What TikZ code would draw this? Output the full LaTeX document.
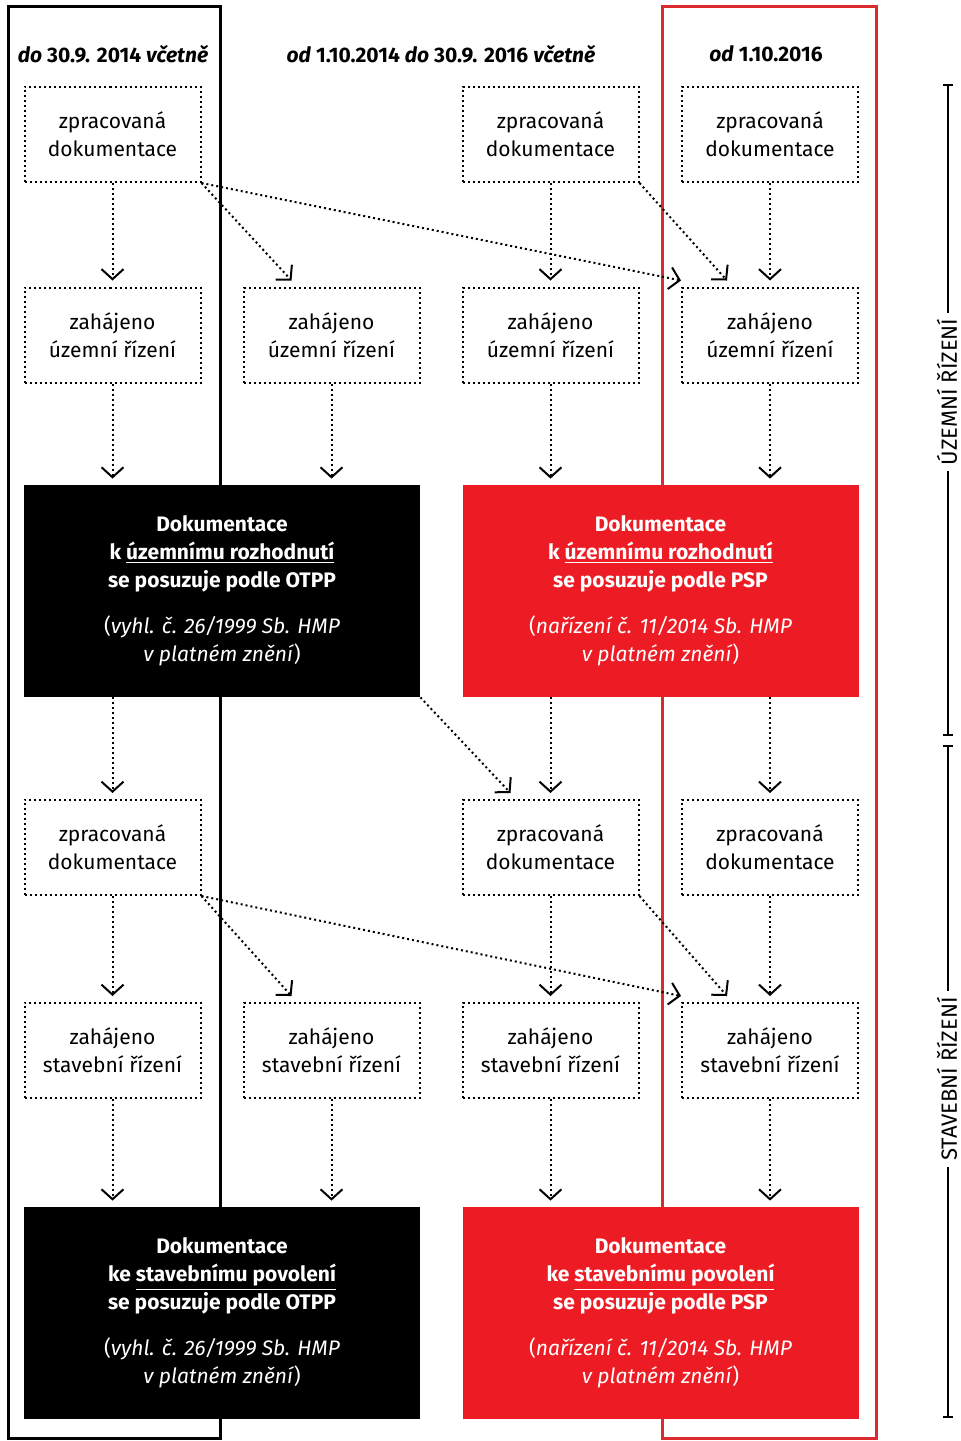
\documentclass[tikz,border=0pt]{standalone}
\usepackage{fontspec}
\setmainfont{Fira Sans}
\usetikzlibrary{arrows.meta,calc}
\definecolor{pspred}{HTML}{ED1C24}
\definecolor{framered}{HTML}{DC2B30}
\tikzset{
  krok/.style={draw, dash pattern=on 1pt off 1.5pt, line width=1pt, minimum width=88pt,
    minimum height=47.5pt, inner sep=0pt, align=center, font=\fontsize{10.5}{14}\selectfont},
  otpp/.style={fill=black, text=white, minimum width=198pt, minimum height=106pt,
    inner sep=0pt, align=center, font=\fontsize{10.5}{14}\selectfont},
  psp/.style={otpp, fill=pspred},
  sipka/.style={dash pattern=on 1pt off 1.5pt, line width=1pt, shorten >=3pt,
    -{Straight Barb[length=5pt,width=11pt,line width=1pt]}},
  obdobi/.style={font=\fontsize{10.5}{14}\selectfont\bfseries},
  faze/.style={rotate=90, fill=white, inner xsep=3pt, inner ysep=0pt,
    font=\fontsize{11}{13}\selectfont},
}
\begin{document}
\begin{tikzpicture}[x=0.5pt,y=-0.5pt]
\useasboundingbox (0,0) rectangle (960,1441);

% ramecky obdobi
\draw[line width=1.5pt] (8,6) rectangle (220,1438);
\draw[framered, line width=1.5pt] (662,6) rectangle (876,1438);

\node[obdobi] (h1) at (113,54) {\textit{do} 30.9. 2014 \textit{včetně}};
\node[obdobi] (h2) at (441,54) {\textit{od} 1.10.2014 \textit{do} 30.9. 2016 \textit{včetně}};
\node[obdobi] (h3) at (766,54) {\textit{od} 1.10.2016};

% uzemni rizeni
\node[krok] (zd1) at (112.5,134.5) {zpracovaná\\dokumentace};
\node[krok] (zd3) at (550.5,134.5) {zpracovaná\\dokumentace};
\node[krok] (zd4) at (770,134.5) {zpracovaná\\dokumentace};

\node[krok] (uz1) at (112.5,335) {zahájeno\\územní řízení};
\node[krok] (uz2) at (331.5,335) {zahájeno\\územní řízení};
\node[krok] (uz3) at (550.5,335) {zahájeno\\územní řízení};
\node[krok] (uz4) at (770,335) {zahájeno\\územní řízení};

\node[otpp] (urOTPP) at (222,591) {\textbf{Dokumentace}\\\textbf{k \underline{územnímu rozhodnutí}}\\\textbf{se posuzuje podle OTPP}\\[9pt]
  (\textit{vyhl. č. 26/1999 Sb. HMP}\\\textit{v platném znění})};
\node[psp] (urPSP) at (660.5,591) {\textbf{Dokumentace}\\\textbf{k \underline{územnímu rozhodnutí}}\\\textbf{se posuzuje podle PSP}\\[9pt]
  (\textit{nařízení č. 11/2014 Sb. HMP}\\\textit{v platném znění})};

% stavebni rizeni
\node[krok] (sd1) at (112.5,847.5) {zpracovaná\\dokumentace};
\node[krok] (sd3) at (550.5,847.5) {zpracovaná\\dokumentace};
\node[krok] (sd4) at (770,847.5) {zpracovaná\\dokumentace};

\node[krok] (sz1) at (112.5,1050.5) {zahájeno\\stavební řízení};
\node[krok] (sz2) at (331.5,1050.5) {zahájeno\\stavební řízení};
\node[krok] (sz3) at (550.5,1050.5) {zahájeno\\stavební řízení};
\node[krok] (sz4) at (770,1050.5) {zahájeno\\stavební řízení};

\node[otpp] (spOTPP) at (222,1313) {\textbf{Dokumentace}\\\textbf{ke \underline{stavebnímu povolení}}\\\textbf{se posuzuje podle OTPP}\\[9pt]
  (\textit{vyhl. č. 26/1999 Sb. HMP}\\\textit{v platném znění})};
\node[psp] (spPSP) at (660.5,1313) {\textbf{Dokumentace}\\\textbf{ke \underline{stavebnímu povolení}}\\\textbf{se posuzuje podle PSP}\\[9pt]
  (\textit{nařízení č. 11/2014 Sb. HMP}\\\textit{v platném znění})};

% sipky - uzemni
\draw[sipka] (zd1) -- (uz1);
\draw[sipka] (zd3) -- (uz3);
\draw[sipka] (zd4) -- (uz4);
\draw[sipka, shorten >=0pt] (zd1.south east) -- ($(uz2.north west)+(49,-6)$);
\draw[sipka, shorten >=0pt] (zd1.south east) -- ($(uz4.north west)+(0,-6)$);
\draw[sipka, shorten >=0pt] (zd3.south east) -- ($(uz4.north west)+(46,-6)$);
\draw[sipka] (uz1) -- (uz1 |- urOTPP.north);
\draw[sipka] (uz2) -- (uz2 |- urOTPP.north);
\draw[sipka] (uz3) -- (uz3 |- urPSP.north);
\draw[sipka] (uz4) -- (uz4 |- urPSP.north);
\draw[sipka] (sd1 |- urOTPP.south) -- (sd1);
\draw[sipka] (sd3 |- urPSP.south) -- (sd3);
\draw[sipka] (sd4 |- urPSP.south) -- (sd4);
\draw[sipka, shorten >=0pt] (urOTPP.south east) -- ($(sd3.north west)+(49,-6)$);

% sipky - stavebni
\draw[sipka] (sd1) -- (sz1);
\draw[sipka] (sd3) -- (sz3);
\draw[sipka] (sd4) -- (sz4);
\draw[sipka, shorten >=0pt] (sd1.south east) -- ($(sz2.north west)+(49,-6)$);
\draw[sipka, shorten >=0pt] (sd1.south east) -- ($(sz4.north west)+(0,-6)$);
\draw[sipka, shorten >=0pt] (sd3.south east) -- ($(sz4.north west)+(46,-6)$);
\draw[sipka] (sz1) -- (sz1 |- spOTPP.north);
\draw[sipka] (sz2) -- (sz2 |- spOTPP.north);
\draw[sipka] (sz3) -- (sz3 |- spPSP.north);
\draw[sipka] (sz4) -- (sz4 |- spPSP.north);

% faze vpravo
\coordinate (uT) at (948,85);
\coordinate (uB) at (948,735);
\coordinate (sT) at (948,746);
\coordinate (sB) at (948,1417);
\draw[line width=1pt] (uT) -- (uB);
\draw[line width=1pt] (sT) -- (sB);
\foreach \k in {uT,uB,sT,sB}
  \draw[line width=1pt] ([xshift=-2.5pt]\k) -- ([xshift=2.5pt]\k);
\node[faze] (uzLbl) at (947,392) {ÚZEMNÍ ŘÍZENÍ};
\node[faze] (stLbl) at (947,1079) {STAVEBNÍ ŘÍZENÍ};
\end{tikzpicture}
\end{document}
